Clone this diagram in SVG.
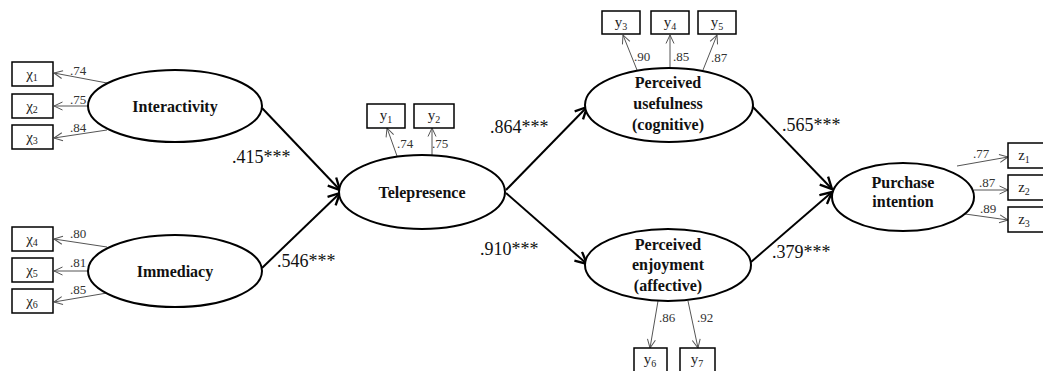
<svg xmlns="http://www.w3.org/2000/svg" width="1043" height="371" viewBox="0 0 1043 371">
<style>
.lat{fill:#fff;stroke:#000;stroke-width:2}
.box{fill:#fff;stroke:#000;stroke-width:1.5}
.nm{font-family:"Liberation Serif",serif;font-weight:bold;font-size:16px;fill:#111;text-anchor:middle}
.bt{font-family:"Liberation Serif",serif;font-size:15px;fill:#222;text-anchor:middle}
.sub{font-size:10px}
.pl{font-family:"Liberation Serif",serif;font-size:18px;fill:#111}
.ml{font-family:"Liberation Serif",serif;font-size:13px;fill:#333}
.sa{stroke:#000;stroke-width:2;fill:none;marker-end:url(#big)}
.ma{stroke:#555;stroke-width:1;fill:none;marker-end:url(#small)}
</style>
<defs>
<marker id="big" markerUnits="userSpaceOnUse" markerWidth="14" markerHeight="14" viewBox="0 0 12 12" refX="11" refY="6" orient="auto">
<path d="M1,1 L11,6 L1,11" fill="none" stroke="#000" stroke-width="2"/>
</marker>
<marker id="small" markerUnits="userSpaceOnUse" markerWidth="10" markerHeight="10" viewBox="0 0 10 10" refX="9.5" refY="5" orient="auto">
<path d="M1,1 L9.5,5 L1,9" fill="none" stroke="#555" stroke-width="1"/>
</marker>
</defs>

<g id="connectors">
<line class="sa" x1="262" y1="108" x2="340" y2="190"/>
<line class="sa" x1="262" y1="268" x2="340" y2="193"/>
<line class="sa" x1="506" y1="190" x2="587" y2="107"/>
<line class="sa" x1="506" y1="193" x2="587" y2="264"/>
<line class="sa" x1="752" y1="106" x2="832" y2="189"/>
<line class="sa" x1="751" y1="262" x2="832" y2="192"/>
<text class="pl" x="232" y="163">.415***</text>
<text class="pl" x="277" y="267">.546***</text>
<text class="pl" x="490" y="133">.864***</text>
<text class="pl" x="480" y="255">.910***</text>
<text class="pl" x="782" y="131">.565***</text>
<text class="pl" x="772" y="258">.379***</text>

<line class="ma" x1="107" y1="83" x2="54" y2="73"/>
<line class="ma" x1="88" y1="106" x2="54" y2="106"/>
<line class="ma" x1="107" y1="130" x2="54" y2="138"/>
<text class="ml" x="70" y="75">.74</text>
<text class="ml" x="70" y="104">.75</text>
<text class="ml" x="70" y="132">.84</text>

<line class="ma" x1="107" y1="247" x2="54" y2="239"/>
<line class="ma" x1="88" y1="271" x2="54" y2="271"/>
<line class="ma" x1="107" y1="293" x2="54" y2="302"/>
<text class="ml" x="70" y="238">.80</text>
<text class="ml" x="70" y="267">.81</text>
<text class="ml" x="70" y="294">.85</text>

<line class="ma" x1="397" y1="156" x2="387" y2="128"/>
<line class="ma" x1="432" y1="155" x2="432" y2="128"/>
<text class="ml" x="397" y="148">.74</text>
<text class="ml" x="432" y="148">.75</text>

<line class="ma" x1="637" y1="70" x2="623" y2="35"/>
<line class="ma" x1="670" y1="68" x2="670" y2="35"/>
<line class="ma" x1="703" y1="70" x2="717" y2="35"/>
<text class="ml" x="634" y="61">.90</text>
<text class="ml" x="673" y="61">.85</text>
<text class="ml" x="711" y="62">.87</text>

<line class="ma" x1="658" y1="301" x2="650" y2="348"/>
<line class="ma" x1="688" y1="301" x2="698" y2="348"/>
<text class="ml" x="659" y="322">.86</text>
<text class="ml" x="697" y="322">.92</text>

<line class="ma" x1="957" y1="166" x2="1008" y2="157"/>
<line class="ma" x1="974" y1="190" x2="1008" y2="190"/>
<line class="ma" x1="958" y1="213" x2="1008" y2="220"/>
<text class="ml" x="973" y="158">.77</text>
<text class="ml" x="979" y="187">.87</text>
<text class="ml" x="980" y="213">.89</text>
</g>

<g id="interactivity"><ellipse class="lat" cx="175" cy="106" rx="87" ry="36"/><text class="nm" x="175" y="112">Interactivity</text></g>
<g id="immediacy"><ellipse class="lat" cx="175" cy="271" rx="87" ry="36"/><text class="nm" x="175" y="277">Immediacy</text></g>
<g id="telepresence"><ellipse class="lat" cx="422" cy="192" rx="83" ry="37"/><text class="nm" x="422" y="198">Telepresence</text></g>
<g id="usefulness"><ellipse class="lat" cx="669" cy="105" rx="84" ry="37"/><text class="nm" x="668" y="88">Perceived</text><text class="nm" x="668" y="109">usefulness</text><text class="nm" x="668" y="130">(cognitive)</text></g>
<g id="enjoyment"><ellipse class="lat" cx="668" cy="265" rx="83" ry="36"/><text class="nm" x="668" y="250">Perceived</text><text class="nm" x="668" y="270">enjoyment</text><text class="nm" x="668" y="291">(affective)</text></g>
<g id="purchase"><ellipse class="lat" cx="903" cy="197" rx="71" ry="34"/><text class="nm" x="903" y="188">Purchase</text><text class="nm" x="903" y="207">intention</text></g>

<g id="x1"><rect class="box" x="12" y="62" width="41" height="24"/><text class="bt" x="32" y="79">χ<tspan class="sub" dy="2">1</tspan></text></g>
<g id="x2"><rect class="box" x="12" y="94" width="41" height="24"/><text class="bt" x="32" y="111">χ<tspan class="sub" dy="2">2</tspan></text></g>
<g id="x3"><rect class="box" x="12" y="125" width="41" height="24"/><text class="bt" x="32" y="142">χ<tspan class="sub" dy="2">3</tspan></text></g>
<g id="x4"><rect class="box" x="12" y="227" width="41" height="24"/><text class="bt" x="32" y="244">χ<tspan class="sub" dy="2">4</tspan></text></g>
<g id="x5"><rect class="box" x="12" y="258" width="41" height="24"/><text class="bt" x="32" y="275">χ<tspan class="sub" dy="2">5</tspan></text></g>
<g id="x6"><rect class="box" x="12" y="289" width="41" height="24"/><text class="bt" x="32" y="306">χ<tspan class="sub" dy="2">6</tspan></text></g>

<g id="y1"><rect class="box" x="367" y="104" width="38" height="24"/><text class="bt" x="386" y="120">y<tspan class="sub" dy="3">1</tspan></text></g>
<g id="y2"><rect class="box" x="414" y="104" width="40" height="24"/><text class="bt" x="434" y="120">y<tspan class="sub" dy="3">2</tspan></text></g>
<g id="y3"><rect class="box" x="602" y="11" width="38" height="23"/><text class="bt" x="621" y="27">y<tspan class="sub" dy="3">3</tspan></text></g>
<g id="y4"><rect class="box" x="651" y="11" width="38" height="23"/><text class="bt" x="670" y="27">y<tspan class="sub" dy="3">4</tspan></text></g>
<g id="y5"><rect class="box" x="698" y="11" width="38" height="23"/><text class="bt" x="717" y="27">y<tspan class="sub" dy="3">5</tspan></text></g>
<g id="y6"><rect class="box" x="634" y="348" width="33" height="30"/><text class="bt" x="650" y="364">y<tspan class="sub" dy="3">6</tspan></text></g>
<g id="y7"><rect class="box" x="680" y="348" width="35" height="30"/><text class="bt" x="697" y="364">y<tspan class="sub" dy="3">7</tspan></text></g>

<g id="z1"><rect class="box" x="1008" y="143" width="40" height="25"/><text class="bt" x="1024" y="160">z<tspan class="sub" dy="3">1</tspan></text></g>
<g id="z2"><rect class="box" x="1008" y="175" width="40" height="25"/><text class="bt" x="1024" y="192">z<tspan class="sub" dy="3">2</tspan></text></g>
<g id="z3"><rect class="box" x="1008" y="207" width="40" height="25"/><text class="bt" x="1024" y="224">z<tspan class="sub" dy="3">3</tspan></text></g>
</svg>
